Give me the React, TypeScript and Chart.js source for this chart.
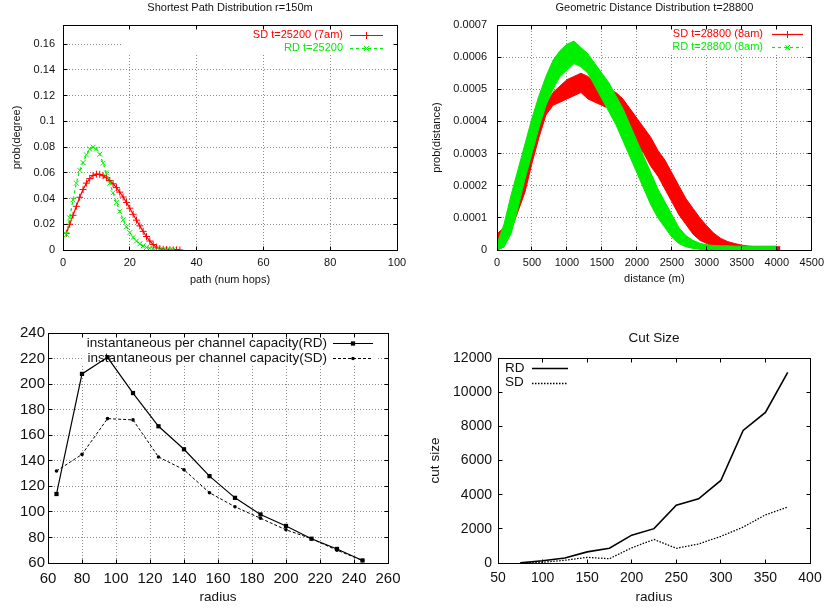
import React, { useEffect, useRef } from 'react';
import { Chart, registerables } from 'chart.js';

Chart.register(...registerables);

const FONT = '"Liberation Sans", Arial, Helvetica, sans-serif';
const INK = '#111111';
const GRID = '#8c8c8c';
const RED = '#ff0000';
const GREEN = '#00ee00';

// ---------- Panel 1: Shortest Path Distribution r=150m ----------
const hopsSD = [1, 2, 3, 4, 5, 6, 7, 8, 9, 10, 11, 12, 13, 14, 15, 16, 17, 18, 19, 20, 21, 22, 23, 24, 25, 26, 27, 28, 29, 30, 31, 32, 33, 34, 35];
const probSD = [0.013, 0.02, 0.027, 0.034, 0.041, 0.047, 0.052, 0.0555, 0.058, 0.059, 0.0588, 0.0578, 0.0562, 0.054, 0.0515, 0.0485, 0.045, 0.0412, 0.037, 0.0325, 0.0278, 0.0232, 0.0188, 0.0145, 0.0105, 0.007, 0.0042, 0.0022, 0.0011, 0.0005, 0.0003, 0.0002, 0.0001, 0.0001, 0.00005];
const hopsRD = [1, 2, 3, 4, 5, 6, 7, 8, 9, 10, 11, 12, 13, 14, 15, 16, 17, 18, 19, 20, 21, 22, 23, 24, 25, 26, 27, 28, 29, 30, 31, 32, 33];
const probRD = [0.012, 0.025, 0.039, 0.052, 0.062, 0.068, 0.074, 0.0785, 0.08, 0.0785, 0.0745, 0.0675, 0.06, 0.052, 0.0445, 0.037, 0.03, 0.0235, 0.018, 0.0135, 0.0098, 0.007, 0.0048, 0.0032, 0.002, 0.0013, 0.0008, 0.0005, 0.0003, 0.0002, 0.0001, 0.0001, 0.00005];

// ---------- Panel 2: Geometric Distance Distribution t=28800 ----------
const distSD = [0, 100, 200, 300, 400, 500, 600, 700, 800, 900, 1000, 1100, 1200, 1300, 1400, 1500, 1600, 1700, 1800, 1900, 2000, 2100, 2200, 2300, 2400, 2500, 2600, 2700, 2800, 2900, 3000, 3100, 3200, 3300, 3400, 3500, 3600, 3700, 3800, 3900, 4000, 4050];
const sdUpper = [0.00005, 0.00007, 0.00015, 0.00022, 0.00029, 0.00035, 0.0004, 0.00045, 0.00049, 0.00051, 0.00053, 0.00054, 0.00055, 0.00054, 0.00052, 0.0005, 0.0005, 0.00049, 0.00047, 0.00044, 0.00041, 0.00038, 0.00035, 0.00031, 0.00028, 0.00024, 0.0002, 0.00016, 0.00013, 0.0001, 0.000075, 0.000052, 0.000036, 0.000026, 0.00002, 0.000015, 0.000012, 0.00001, 0.00001, 0.00001, 0.00001, 0.00001];
const sdLower = [0, 0.00001, 0.00006, 0.00012, 0.00018, 0.00027, 0.00035, 0.00042, 0.00045, 0.00046, 0.00047, 0.00048, 0.00049, 0.00047, 0.00046, 0.00045, 0.00044, 0.00041, 0.00039, 0.00036, 0.00033, 0.0003, 0.00026, 0.00023, 0.00019, 0.00015, 0.00011, 0.00008, 0.00005, 0.00003, 0.00002, 0.00001, 0.000005, 0.000002, 0, 0, 0, 0, 0, 0, 0, 0];
const distRD = [0, 100, 200, 300, 400, 500, 600, 700, 800, 900, 1000, 1100, 1200, 1300, 1400, 1500, 1600, 1700, 1800, 1900, 2000, 2100, 2200, 2300, 2400, 2500, 2600, 2700, 2800, 2900, 3000, 3100, 3200, 3300, 3400, 3500, 3600, 3700, 3800, 3900, 4000];
const rdUpper = [0.00002, 0.00008, 0.00017, 0.00025, 0.00033, 0.00041, 0.00048, 0.00054, 0.00059, 0.00062, 0.00064, 0.00065, 0.00063, 0.00061, 0.00058, 0.00055, 0.00052, 0.00048, 0.00044, 0.00039, 0.00034, 0.00029, 0.00024, 0.00019, 0.00015, 0.00011, 0.00007, 0.000045, 0.00003, 0.000021, 0.000016, 0.000014, 0.000013, 0.000013, 0.000012, 0.000012, 0.000012, 0.000012, 0.000012, 0.000012, 0.000012];
const rdLower = [0, 0.00001, 0.00005, 0.00013, 0.00022, 0.0003, 0.00038, 0.00045, 0.0005, 0.00054, 0.00056, 0.00058, 0.00057, 0.00055, 0.00051, 0.00047, 0.00043, 0.00039, 0.00034, 0.00029, 0.00024, 0.00019, 0.00014, 0.0001, 0.00007, 0.00004, 0.00002, 0.00001, 0.000005, 0.000002, 0, 0, 0, 0, 0, 0, 0, 0, 0, 0, 0];

// ---------- Panel 3: instantaneous per channel capacity ----------
const radiusCap = [65, 80, 95, 110, 125, 140, 155, 170, 185, 200, 215, 230, 245];
const capRD = [114, 208, 221, 193, 167, 149, 128, 111, 98, 89, 79, 71, 62];
const capSD = [132, 145, 173, 172, 143, 133, 115, 104, 95, 86, 79, 70, 62];

// ---------- Panel 4: Cut Size ----------
const radiusCut = [75, 100, 125, 150, 175, 200, 225, 250, 275, 300, 325, 350, 375];
const cutRD = [10, 130, 290, 650, 860, 1630, 2010, 3380, 3760, 4830, 7760, 8810, 11160];
const cutSD = [0, 40, 160, 330, 250, 890, 1380, 860, 1110, 1560, 2100, 2820, 3270];

const pts = (xs: number[], ys: number[]) => xs.map((x, i) => ({ x, y: ys[i] }));

type KeyItem = { text: string; textColor: string; color: string; dash: number[]; lw: number; marker?: string; mr?: number };
type Decor = {
  tick: number;
  clear?: [number, number, number, number];
  key?: { size: number; align: 'left' | 'right'; textX: number; x1: number; x2: number; rows: number[]; items: KeyItem[] };
};

function drawMarker(ctx: CanvasRenderingContext2D, style: string, x: number, y: number, r: number, color: string) {
  ctx.save();
  ctx.setLineDash([]);
  ctx.strokeStyle = color;
  ctx.fillStyle = color;
  ctx.lineWidth = 1;
  ctx.beginPath();
  if (style === 'cross') {
    ctx.moveTo(x - r, y); ctx.lineTo(x + r, y); ctx.moveTo(x, y - r); ctx.lineTo(x, y + r); ctx.stroke();
  } else if (style === 'crossRot') {
    const d = r * Math.SQRT1_2;
    ctx.moveTo(x - d, y - d); ctx.lineTo(x + d, y + d); ctx.moveTo(x + d, y - d); ctx.lineTo(x - d, y + d); ctx.stroke();
  } else if (style === 'rect') {
    const s = r * Math.SQRT1_2;
    ctx.fillRect(x - s, y - s, 2 * s, 2 * s);
  } else if (style === 'circle') {
    ctx.arc(x, y, r, 0, Math.PI * 2); ctx.fill();
  }
  ctx.restore();
}

const al = (p: number) => Math.round(p - 0.5) + 0.5;

function gnuDecor(d: Decor) {
  return {
    id: 'gnuDecor',
    beforeDatasetsDraw(chart: any) {
      const { ctx, chartArea: a } = chart;
      ctx.save();
      if (d.clear) {
        const [l, t, r, b] = d.clear;
        ctx.fillStyle = '#ffffff';
        ctx.fillRect(a.left + l, a.top + t, r - l, b - t);
      }
      if (d.key) {
        const k = d.key;
        ctx.font = `${k.size}px ${FONT}`;
        ctx.textBaseline = 'middle';
        ctx.textAlign = k.align;
        k.items.forEach((it, i) => {
          const y = a.top + k.rows[i];
          ctx.fillStyle = it.textColor;
          ctx.fillText(it.text, a.left + k.textX, y);
          ctx.strokeStyle = it.color;
          ctx.lineWidth = it.lw;
          ctx.setLineDash(it.dash);
          ctx.beginPath();
          ctx.moveTo(a.left + k.x1, Math.round(y) + 0.5);
          ctx.lineTo(a.left + k.x2, Math.round(y) + 0.5);
          ctx.stroke();
          ctx.setLineDash([]);
          if (it.marker) drawMarker(ctx, it.marker, a.left + (k.x1 + k.x2) / 2, Math.round(y) + 0.5, it.mr || 3, it.color);
        });
      }
      ctx.restore();
    },
    afterDraw(chart: any) {
      const { ctx, chartArea: a, scales } = chart;
      ctx.save();
      ctx.strokeStyle = '#000000';
      ctx.lineWidth = 1;
      ctx.setLineDash([]);
      const L = al(a.left), R = al(a.right), T = al(a.top), B = al(a.bottom);
      ctx.beginPath();
      for (const t of scales.x.ticks) {
        const p = al(scales.x.getPixelForValue(t.value));
        ctx.moveTo(p, B); ctx.lineTo(p, B - d.tick);
        ctx.moveTo(p, T); ctx.lineTo(p, T + d.tick);
      }
      for (const t of scales.y.ticks) {
        const p = al(scales.y.getPixelForValue(t.value));
        ctx.moveTo(L, p); ctx.lineTo(L + d.tick, p);
        ctx.moveTo(R, p); ctx.lineTo(R - d.tick, p);
      }
      ctx.stroke();
      ctx.strokeRect(L, T, R - L, B - T);
      ctx.restore();
    },
  };
}

function scale(o: any) {
  return {
    type: 'linear',
    position: o.position,
    min: o.min,
    max: o.max,
    border: { display: false, dash: [1, 2] },
    grid: { display: o.grid, drawTicks: false, color: GRID, lineWidth: 1 },
    ticks: {
      stepSize: o.step,
      includeBounds: false,
      autoSkip: false,
      maxRotation: 0,
      padding: o.pad,
      color: INK,
      font: { family: FONT, size: o.fs },
      callback: o.cb,
    },
    title: o.title
      ? { display: true, text: o.title, color: INK, font: { family: FONT, size: o.ts }, padding: o.tp }
      : { display: false },
    afterFit: (s: any) => {
      if (o.position === 'bottom') s.height = o.size;
      else s.width = o.size;
    },
  };
}

const plainNum = (v: any) => String(parseFloat(Number(v).toFixed(6)));

function makePanel1(canvas: HTMLCanvasElement) {
  return new Chart(canvas, {
    type: 'line',
    data: {
      datasets: [
        {
          label: 'SD t=25200 (7am)', data: pts(hopsSD, probSD), borderColor: RED, backgroundColor: RED,
          borderWidth: 1.2, pointStyle: 'cross', pointRadius: 3.5, pointBorderWidth: 1, pointBorderColor: RED, tension: 0, order: 1,
        },
        {
          label: 'RD t=25200', data: pts(hopsRD, probRD), borderColor: GREEN, backgroundColor: GREEN,
          borderWidth: 1.2, borderDash: [3, 3], pointStyle: 'crossRot', pointRadius: 3.5, pointBorderWidth: 1, pointBorderColor: GREEN, tension: 0, order: 0,
        },
      ],
    } as any,
    options: {
      responsive: false, animation: false, events: [],
      layout: { padding: { left: 0, top: 0, right: 18, bottom: 0 } },
      plugins: {
        legend: { display: false }, tooltip: { enabled: false },
        title: {
          display: true, text: 'Shortest Path Distribution r=150m', color: INK, fullSize: false,
          font: { family: FONT, size: 11, weight: 'normal' }, padding: { top: 1.4, bottom: 10.4 },
        },
      },
      scales: {
        x: scale({ position: 'bottom', min: 0, max: 100, step: 20, grid: true, pad: 6, fs: 11, size: 50, title: 'path (num hops)', ts: 11, tp: { top: 0, bottom: 13.4 }, cb: plainNum }),
        y: scale({ position: 'left', min: 0, max: 0.175, step: 0.02, grid: true, pad: 8, fs: 11, size: 63, title: 'prob(degree)', ts: 11, tp: { top: 10.4, bottom: 0 }, cb: plainNum }),
      },
    } as any,
    plugins: [gnuDecor({
      tick: 4,
      clear: [60, 1, 333, 28],
      key: {
        size: 11, align: 'right', textX: 280, x1: 287, x2: 320, rows: [10, 22.7],
        items: [
          { text: 'SD t=25200 (7am)', textColor: RED, color: RED, dash: [], lw: 1.2, marker: 'cross', mr: 3.5 },
          { text: 'RD t=25200', textColor: GREEN, color: GREEN, dash: [3, 3], lw: 1.2, marker: 'crossRot', mr: 3.5 },
        ],
      },
    })],
  });
}

function makePanel2(canvas: HTMLCanvasElement) {
  const band = (data: any, color: string, order: number, fillTarget?: number) => ({
    data, borderColor: color, backgroundColor: color, borderWidth: 1, pointRadius: 0, tension: 0, order,
    fill: fillTarget === undefined ? false : { target: fillTarget, above: color, below: color },
  });
  return new Chart(canvas, {
    type: 'line',
    data: {
      datasets: [
        { label: 'SD t=28800 (8am)', ...band(pts(distSD, sdUpper), RED, 1) },
        { label: 'SD t=28800 (8am) low', ...band(pts(distSD, sdLower), RED, 1, 0) },
        { label: 'RD t=28800 (8am)', ...band(pts(distRD, rdUpper), GREEN, 0) },
        { label: 'RD t=28800 (8am) low', ...band(pts(distRD, rdLower), GREEN, 0, 2) },
      ],
    } as any,
    options: {
      responsive: false, animation: false, events: [],
      layout: { padding: { left: 0, top: 0, right: 12, bottom: 0 } },
      plugins: {
        legend: { display: false }, tooltip: { enabled: false },
        title: {
          display: true, text: 'Geometric Distance Distribution t=28800', color: INK, fullSize: false,
          font: { family: FONT, size: 11, weight: 'normal' }, padding: { top: 1.4, bottom: 10.4 },
        },
      },
      scales: {
        x: scale({ position: 'bottom', min: 0, max: 4500, step: 500, grid: true, pad: 6, fs: 11, size: 50, title: 'distance (m)', ts: 11, tp: { top: 0, bottom: 14.4 }, cb: (v: any) => String(Math.round(Number(v))) }),
        y: scale({ position: 'left', min: 0, max: 0.0007, step: 0.0001, grid: true, pad: 10, fs: 11, size: 82, title: 'prob(distance)', ts: 11, tp: { top: 15.4, bottom: 0 }, cb: (v: any) => (Number(v) === 0 ? '0' : Number(v).toFixed(4)) }),
      },
    } as any,
    plugins: [gnuDecor({
      tick: 4,
      clear: [158, 1, 320, 28],
      key: {
        size: 11, align: 'right', textX: 266, x1: 275, x2: 306, rows: [9.3, 22.3],
        items: [
          { text: 'SD t=28800 (8am)', textColor: RED, color: RED, dash: [], lw: 1.2, marker: 'cross', mr: 3.5 },
          { text: 'RD t=28800 (8am)', textColor: GREEN, color: GREEN, dash: [3, 3], lw: 1.2, marker: 'crossRot', mr: 3.5 },
        ],
      },
    })],
  });
}

function makePanel3(canvas: HTMLCanvasElement) {
  return new Chart(canvas, {
    type: 'line',
    data: {
      datasets: [
        {
          label: 'instantaneous per channel capacity(RD)', data: pts(radiusCap, capRD), borderColor: '#000', backgroundColor: '#000',
          borderWidth: 1.2, pointStyle: 'rect', pointRadius: 3, pointBorderWidth: 0, tension: 0,
        },
        {
          label: 'instantaneous per channel capacity(SD)', data: pts(radiusCap, capSD), borderColor: '#000', backgroundColor: '#000',
          borderWidth: 1, borderDash: [3, 2], pointStyle: 'circle', pointRadius: 1.8, pointBorderWidth: 0, tension: 0,
        },
      ],
    } as any,
    options: {
      responsive: false, animation: false, events: [],
      layout: { padding: { left: 0, top: 33, right: 27, bottom: 0 } },
      plugins: { legend: { display: false }, tooltip: { enabled: false }, title: { display: false } },
      scales: {
        x: scale({ position: 'bottom', min: 60, max: 260, step: 20, grid: true, pad: 7, fs: 15, size: 47, title: 'radius', ts: 13.5, tp: { top: 0, bottom: 4.2 }, cb: plainNum }),
        y: scale({ position: 'left', min: 60, max: 240, step: 20, grid: true, pad: 3, fs: 15, size: 48, cb: plainNum }),
      },
    } as any,
    plugins: [gnuDecor({
      tick: 4,
      clear: [34, 1, 330, 32],
      key: {
        size: 13.5, align: 'right', textX: 279, x1: 285, x2: 325, rows: [10.3, 25.3],
        items: [
          { text: 'instantaneous per channel capacity(RD)', textColor: INK, color: '#000', dash: [], lw: 1.2, marker: 'rect', mr: 3 },
          { text: 'instantaneous per channel capacity(SD)', textColor: INK, color: '#000', dash: [3, 2], lw: 1, marker: 'circle', mr: 1.8 },
        ],
      },
    })],
  });
}

function makePanel4(canvas: HTMLCanvasElement) {
  return new Chart(canvas, {
    type: 'line',
    data: {
      datasets: [
        { label: 'RD', data: pts(radiusCut, cutRD), borderColor: '#000', borderWidth: 1.6, pointRadius: 0, tension: 0 },
        { label: 'SD', data: pts(radiusCut, cutSD), borderColor: '#000', borderWidth: 1.3, borderDash: [1.5, 1.5], pointRadius: 0, tension: 0 },
      ],
    } as any,
    options: {
      responsive: false, animation: false, events: [],
      layout: { padding: { left: 0, top: 0, right: 20, bottom: 0 } },
      plugins: {
        legend: { display: false }, tooltip: { enabled: false },
        title: {
          display: true, text: 'Cut Size', color: INK, fullSize: false,
          font: { family: FONT, size: 13.5, weight: 'normal' }, padding: { top: 29.9, bottom: 11.9 },
        },
      },
      scales: {
        x: scale({ position: 'bottom', min: 50, max: 400, step: 50, grid: false, pad: 7, fs: 14, size: 47, title: 'radius', ts: 13.5, tp: { top: 0, bottom: 4.2 }, cb: plainNum }),
        y: scale({ position: 'left', min: 0, max: 12000, step: 2000, grid: false, pad: 6, fs: 14, size: 83, title: 'cut size', ts: 13.5, tp: { top: 11.9, bottom: 0 }, cb: plainNum }),
      },
    } as any,
    plugins: [gnuDecor({
      tick: 4,
      key: {
        size: 13.5, align: 'left', textX: 7, x1: 34, x2: 70, rows: [10.3, 24.7],
        items: [
          { text: 'RD', textColor: INK, color: '#000', dash: [], lw: 1.6 },
          { text: 'SD', textColor: INK, color: '#000', dash: [1.5, 1.5], lw: 1.3 },
        ],
      },
    })],
  });
}

function Panel({ x, y, w, h, make }: { x: number; y: number; w: number; h: number; make: (c: HTMLCanvasElement) => Chart }) {
  const ref = useRef<HTMLCanvasElement>(null);
  useEffect(() => {
    const chart = make(ref.current as HTMLCanvasElement);
    return () => chart.destroy();
  }, []);
  return (
    <canvas ref={ref} width={w} height={h} style={{ position: 'absolute', left: x, top: y, width: w, height: h }} />
  );
}

export default function App() {
  return (
    <div style={{ position: 'absolute', left: 0, top: 0, width: 830, height: 610, background: '#ffffff', overflow: 'hidden' }}>
      <Panel x={0} y={0} w={415} h={300} make={makePanel1} />
      <Panel x={415} y={0} w={415} h={300} make={makePanel2} />
      <Panel x={0} y={300} w={415} h={310} make={makePanel3} />
      <Panel x={415} y={300} w={415} h={310} make={makePanel4} />
    </div>
  );
}
